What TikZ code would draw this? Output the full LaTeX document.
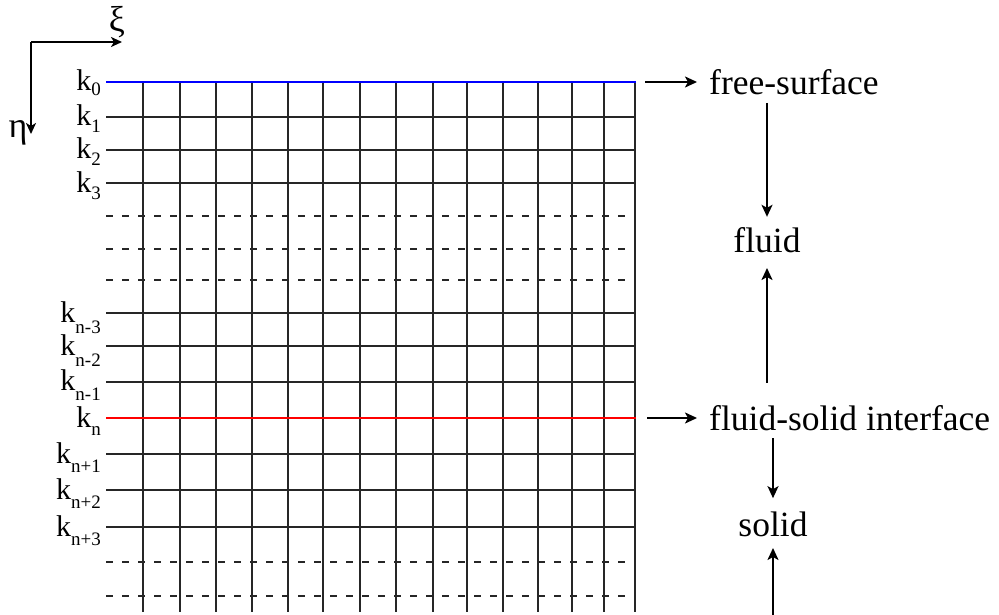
\documentclass[tikz,border=0pt]{standalone}
\usepackage{fontspec}
\setmainfont{Liberation Serif}
\usetikzlibrary{arrows.meta,calc}
\newcommand{\klab}[2][7]{k\raisebox{-#1pt}{\fontsize{19}{19}\selectfont #2}}
\begin{document}
\begin{tikzpicture}[x=1pt,y=-1pt,
  gridline/.style={line width=2pt, draw=black!85},
  dgridline/.style={gridline, dash pattern=on 7pt off 9pt},
  arr/.style={line width=2pt, -{Stealth[length=12pt,width=11pt,inset=3pt]}},
  axarr/.style={line width=1.8pt, -{Stealth[length=11pt,width=10pt,inset=3pt]}},
  klabel/.style={anchor=base east, inner sep=0pt, font=\fontsize{30}{30}\selectfont},
  rt/.style={inner sep=0pt, font=\fontsize{35.5}{35.5}\selectfont},
  greek/.style={inner sep=0pt, font=\fontsize{36}{36}\selectfont}]
\useasboundingbox (0,0) rectangle (999,615);

% grid
\foreach \x in {143,180,216,252,288,323,360,396,433,467,503,538,572,604,635}
  \draw[gridline] (\x,82) -- (\x,612);
\foreach \y in {116.7,150,183.3,313,346,381.5,454,490,527}
  \draw[gridline] (106,\y) -- (636,\y);
\foreach \y in {216,249,280,562,596}
  \draw[dgridline] (106,\y) -- (636,\y);
\draw[line width=2.5pt, blue] (106,82) -- (636,82);
\draw[line width=2.3pt, red] (106,418) -- (636,418);

% row labels
\node[klabel] (l0) at (101,91) {\klab[5]{0}};
\node[klabel] (l1) at (101,125.7) {\klab{1}};
\node[klabel] (l2) at (101,159) {\klab{2}};
\node[klabel] (l3) at (101,192.3) {\klab{3}};
\node[klabel] (ln3) at (101,322) {\klab[11]{n-3}};
\node[klabel] (ln2) at (101,355) {\klab[11]{n-2}};
\node[klabel] (ln1) at (101,390.5) {\klab[10]{n-1}};
\node[klabel] (ln) at (101,427) {\klab[8]{n}};
\node[klabel] (lp1) at (101,463) {\klab[9]{n+1}};
\node[klabel] (lp2) at (101,499) {\klab[9]{n+2}};
\node[klabel] (lp3) at (101,536) {\klab[9]{n+3}};

% axes
\coordinate (o) at (31,42);
\coordinate (xe) at (122,42);
\coordinate (ye) at (31,134);
\node[greek] (xi) at (117,22) {ξ};
\node[greek] (eta) at (18,133) {η};
\draw[axarr] (o) -- (xe);
\draw[axarr] (o) -- (ye);

% right-hand texts
\node[rt, anchor=base west] (fs) at (709,95) {free-surface};
\node[rt, anchor=base] (fl) at (767,252) {fluid};
\node[rt, anchor=base west] (fsi) at (709,430) {fluid-solid interface};
\node[rt, anchor=base] (so) at (773,536) {solid};

\coordinate (k0e) at (636,82);
\coordinate (kne) at (636,418);
\coordinate (bot) at (773,615);

\draw[arr] ([xshift=9pt]k0e) -- ([xshift=-12pt]k0e -| fs.west);
\draw[arr] ([xshift=11pt]kne) -- ([xshift=-12pt]kne -| fsi.west);
\draw[arr] ([yshift=-8pt]fs.base -| fl.base) -- ([yshift=10pt]fl.north);
\draw[arr] ([yshift=22pt]fsi.north -| fl.base) -- ([yshift=-16pt]fl.base);
\draw[arr] ([yshift=-8pt]fsi.base -| so.base) -- ([yshift=13pt]so.north);
\draw[arr] (bot -| so.base) -- ([yshift=-12pt]so.base);
\end{tikzpicture}
\end{document}
